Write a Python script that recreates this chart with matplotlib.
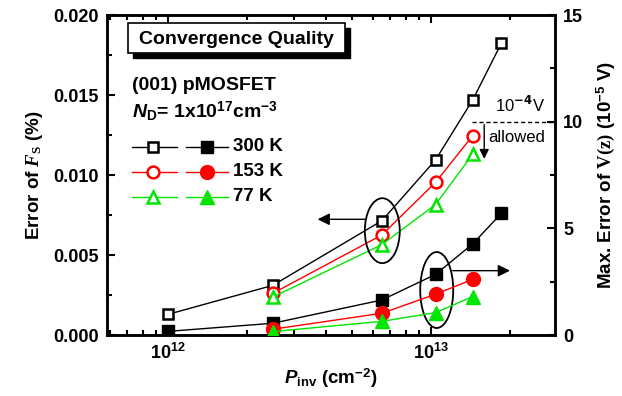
import matplotlib
matplotlib.use("Agg")
import matplotlib.pyplot as plt
from matplotlib.patches import Ellipse, Rectangle
from matplotlib.lines import Line2D
from matplotlib.ticker import LogLocator, MultipleLocator, NullFormatter, FormatStrFormatter

plt.rcParams['font.family'] = ['Liberation Sans', 'DejaVu Sans']
plt.rcParams['font.weight'] = 'bold'
plt.rcParams['axes.labelweight'] = 'bold'
plt.rcParams['mathtext.fontset'] = 'custom'
plt.rcParams['mathtext.rm'] = 'Liberation Serif'
plt.rcParams['mathtext.it'] = 'Liberation Serif:italic'
plt.rcParams['mathtext.bf'] = 'Liberation Sans:bold'
plt.rcParams['mathtext.bfit'] = 'Liberation Sans:italic:bold'
plt.rcParams['mathtext.sf'] = 'Liberation Sans:bold'

# ---- data ----
p_300 = [1e12, 2.5e12, 6.5e12, 1.04e13, 1.44e13, 1.85e13]
p_low = [2.5e12, 6.5e12, 1.04e13, 1.44e13]
fs_300 = [0.00129, 0.0031, 0.00714, 0.01094, 0.01469, 0.01823]
fs_153 = [0.0026, 0.00625, 0.00954, 0.01246]
fs_77 = [0.00237, 0.00565, 0.00815, 0.0113]
vz_300 = [0.17, 0.55, 1.64, 2.84, 4.27, 5.70]
vz_153 = [0.27, 1.02, 1.91, 2.61]
vz_77 = [0.16, 0.64, 1.05, 1.80]
temps = ['300 K', '153 K', '77 K']
colors = ['black', '#ff0000', '#00e600']
markers = ['s', 'o', '^']

fig = plt.figure(figsize=(6.22, 3.96), dpi=100)
ax = fig.add_axes([107/622, 1-335/396, 448/622, 320/396])
ax2 = ax.twinx()

ms_open = {'s': 7.5, 'o': 8.5, '^': 9}
ms_fill = {'s': 9, 'o': 10, '^': 10.5}

fs_sets = [(p_300, fs_300), (p_low, fs_153), (p_low, fs_77)]
vz_sets = [(p_300, vz_300), (p_low, vz_153), (p_low, vz_77)]
for (x, y), c, m in zip(fs_sets, colors, markers):
    ax.plot(x, y, color=c, lw=1, marker=m, ms=ms_open[m], mfc='white',
            mec=c, mew=1.8, zorder=3)
for (x, y), c, m in zip(vz_sets, colors, markers):
    ax2.plot(x, y, color=c, lw=1, marker=m, ms=ms_fill[m], mfc=c,
             mec=c, zorder=3)

ax.set_xscale('log')
ax.set_xlim(5.86e11, 2.96e13)
ax.set_ylim(0, 0.020)
ax2.set_ylim(0, 15)

ax.set_xticks([1e12, 1e13])
ax.set_xticklabels([r'$\mathbf{10^{12}}$', r'$\mathbf{10^{13}}$'])
ax.xaxis.set_minor_locator(LogLocator(base=10, subs=range(2, 10)))
ax.xaxis.set_minor_formatter(NullFormatter())
ax.yaxis.set_major_locator(MultipleLocator(0.005))
ax.yaxis.set_minor_locator(MultipleLocator(0.0025))
ax.yaxis.set_major_formatter(FormatStrFormatter('%.3f'))
ax2.yaxis.set_major_locator(MultipleLocator(5))
ax2.yaxis.set_minor_locator(MultipleLocator(2.5))
ax.set_ylim(0, 0.020)
ax2.set_ylim(0, 15)

for a in (ax, ax2):
    for s in a.spines.values():
        s.set_linewidth(1.8)
ax.tick_params(which='both', direction='in', top=True, right=False, width=1.5,
               labelsize=13, pad=6)
ax.tick_params(which='major', length=6)
ax.tick_params(which='minor', length=3.5)
ax2.tick_params(which='both', direction='in', width=1.5, labelsize=13, pad=6)
ax2.tick_params(which='major', length=6)
ax2.tick_params(which='minor', length=3.5)

ax.set_xlabel(r'$\mathbfit{P}_\mathbf{inv}$ (cm$^\mathbf{-2}$)', fontsize=13.5, labelpad=2)
ax.set_ylabel(r'Error of $\mathit{F}_\mathrm{S}$ (%)', fontsize=13.5, labelpad=6)
ax2.set_ylabel(r'Max. Error of $\mathrm{V(z)}$ (10$^\mathbf{-5}$ V)', fontsize=13.5, labelpad=8)

T = ax.transAxes
# title box with shadow
ax.add_patch(Rectangle((0.0469+5/448, 0.881-5/320), 0.4844, 0.0938, transform=T,
                       facecolor='black', edgecolor='black', zorder=4, clip_on=False))
ax.add_patch(Rectangle((0.0469, 0.881), 0.4844, 0.0938, transform=T,
                       facecolor='white', edgecolor='black', lw=1.2, zorder=5, clip_on=False))
ax.text(0.289, 0.925, 'Convergence Quality', transform=T, ha='center', va='center',
        fontsize=14, zorder=6)
ax.text(0.0558, 0.78, '(001) pMOSFET', transform=T, ha='left', va='center', fontsize=14)
ax.text(0.0558, 0.70, r'$\mathbfit{N}_\mathbf{D}$= 1x10$^\mathbf{17}$cm$^\mathbf{-3}$',
        transform=T, ha='left', va='center', fontsize=14)

# legend drawn manually
rows = [0.5875, 0.5094, 0.432]
for yr, c, m, t in zip(rows, colors, markers, temps):
    ax.add_line(Line2D([0.0558, 0.1563], [yr, yr], transform=T, color=c, lw=1))
    ax.add_line(Line2D([0.1027], [yr], transform=T, color=c, marker=m, ms=ms_open[m],
                       mfc='white', mec=c, mew=1.8))
    ax.add_line(Line2D([0.1763, 0.270], [yr, yr], transform=T, color=c, lw=1))
    ax.add_line(Line2D([0.2232], [yr], transform=T, color=c, marker=m, ms=ms_fill[m],
                       mfc=c, mec=c))
    ax.text(0.2813, yr, t, transform=T, ha='left', va='center', fontsize=13.5)

# ellipses and arrows
ax.add_patch(Ellipse((0.6145, 0.326), 0.078, 0.203, transform=T, fill=False,
                     edgecolor='black', lw=1.3, zorder=4))
ax.add_patch(Ellipse((0.736, 0.1406), 0.0737, 0.2375, transform=T, fill=False,
                     edgecolor='black', lw=1.3, zorder=4))
ax.annotate('', xy=(0.464, 0.3616), xytext=(0.5826, 0.3616), xycoords=T, textcoords=T,
            arrowprops=dict(arrowstyle='-|>', color='black', lw=1, mutation_scale=18))
ax.annotate('', xy=(0.9056, 0.201), xytext=(0.7656, 0.201), xycoords=T, textcoords=T,
            arrowprops=dict(arrowstyle='-|>', color='black', lw=1, mutation_scale=18))

# allowed limit
ax2.hlines(10, 0.814, 1.0, transform=ax2.get_yaxis_transform(), colors='black',
           linestyles=(0, (3, 2)), lw=1)
ax.annotate('', xy=(0.842, 0.5416), xytext=(0.842, 0.666), xycoords=T, textcoords=T,
            arrowprops=dict(arrowstyle='-|>', color='black', lw=1, mutation_scale=14))
ax.text(0.922, 0.719, r'10$^{-4}$V', transform=T, ha='center', va='center',
        fontsize=12, fontweight='normal',
        math_fontfamily='dejavusans')
ax.text(0.85, 0.616, 'allowed', transform=T, ha='left', va='center', fontsize=12,
        fontweight='normal')

fig.savefig('out.png', dpi=100)
